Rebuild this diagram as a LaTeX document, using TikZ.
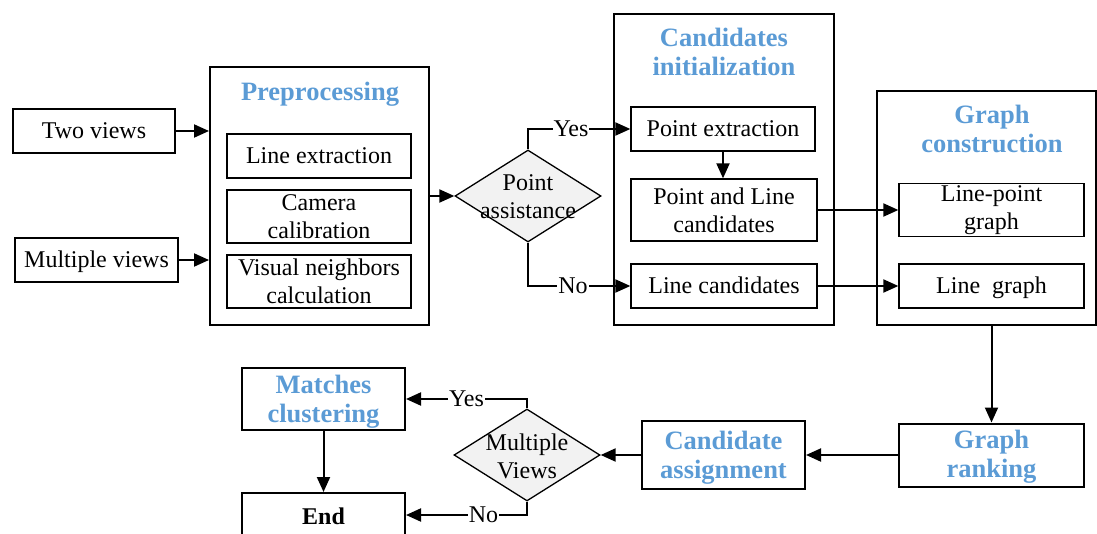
\documentclass[tikz,border=0pt]{standalone}
\usepackage{fontspec}
\setmainfont{Liberation Serif}
\usetikzlibrary{shapes.geometric,arrows.meta}
\definecolor{ttl}{RGB}{91,155,213}
\definecolor{dgray}{RGB}{242,242,242}
\begin{document}
\begin{tikzpicture}[x=1pt,y=-1pt,
  every node/.style={font=\fontsize{24}{28}\selectfont},
  one/.style={text height=19pt,text depth=4.5pt},
  thickbox/.style={draw,line width=2pt,inner sep=0pt,align=center},
  thinbox/.style={draw,line width=1.3pt,inner sep=0pt,align=center},
  title/.style={font=\fontsize{26.5}{29}\selectfont\bfseries,text=ttl,align=center},
  dia/.style={diamond,draw,line width=1.3pt,fill=dgray,inner sep=0pt,minimum width=146pt,minimum height=92pt},
  conn/.style={line width=2pt,-{Triangle[length=15pt,width=13pt]}},
  lab/.style={fill=white,inner sep=1pt,text height=19pt,text depth=4.5pt}]
\useasboundingbox (0,0) rectangle (1097,534);
\clip (0,0) rectangle (1097,534);
% inputs
\node[thickbox,one,minimum width=162pt,minimum height=44pt] (two) at (94,131) {Two views};
\node[thickbox,one,minimum width=163pt,minimum height=44pt] (mul) at (96.5,260) {Multiple views};
% preprocessing
\node[thickbox,minimum width=219pt,minimum height=258pt] (pre) at (319.5,196) {};
\node[title,one] (pret) at (320,93) {Preprocessing};
\node[thinbox,one,minimum width=184pt,minimum height=44pt] (le) at (319,156) {Line extraction};
\node[thinbox,minimum width=184pt,minimum height=53pt] (cc) at (319,216.5) {Camera\\calibration};
\node[thinbox,minimum width=184pt,minimum height=53pt] (vn) at (319,281.5) {Visual neighbors\\calculation};
% point assistance
\node[dia] (pa) at (528,196) {};
\node[align=center] (pat) at (528,197) {Point\\assistance};
% candidates initialization
\node[thickbox,minimum width=220pt,minimum height=311pt] (ci) at (724,169.5) {};
\node[title] (cit) at (724,51.5) {Candidates\\initialization};
\node[thinbox,one,minimum width=184pt,minimum height=44pt] (pe) at (723,129) {Point extraction};
\node[thinbox,minimum width=186pt,minimum height=62pt] (plc) at (724,210) {Point and Line\\candidates};
\node[thinbox,one,minimum width=186pt,minimum height=44pt] (lc) at (724,286) {Line candidates};
% graph construction
\node[thickbox,minimum width=219pt,minimum height=234pt] (gc) at (986.5,208) {};
\node[title] (gct) at (992,128.5) {Graph\\construction};
\node[thinbox,minimum width=185pt,minimum height=53pt] (lpg) at (991.5,210) {Line-point\\graph};
\node[thinbox,one,minimum width=185pt,minimum height=44pt] (lg) at (991.5,286) {Line~~graph};
% bottom row
\node[thickbox,minimum width=185pt,minimum height=63pt] (gr) at (991.5,455) {};
\node[title] (grt) at (991.5,457) {Graph\\ranking};
\node[thickbox,minimum width=163pt,minimum height=68pt] (ca) at (723.5,455) {};
\node[title] (cat) at (723.5,457.5) {Candidate\\assignment};
\node[dia] (mv) at (527,455) {};
\node[align=center] (mvt) at (527,456) {Multiple\\Views};
\node[thickbox,minimum width=163pt,minimum height=62pt] (mc) at (323.5,399) {};
\node[title] (mct) at (323.5,401.5) {Matches\\clustering};
\node[thickbox,minimum width=163pt,minimum height=60pt] (en) at (323.5,523) {};
\node[font=\fontsize{24}{28}\selectfont\bfseries,one] (ent) at (323.5,517) {End};
% connectors
\draw[conn] (two.east) -- (two.east -| pre.west);
\draw[conn] (mul.east) -- (mul.east -| pre.west);
\draw[conn] (pre.east) -- (pa.west);
\draw[conn] (pa.north) |- node[lab,pos=0.71] {Yes} (pe.west);
\draw[conn] (pa.south) |- node[lab,pos=0.72] {No} (lc.west);
\draw[conn] (pe.south) -- (pe.south |- plc.north);
\draw[conn] (plc.east) -- (lpg.west);
\draw[conn] (lc.east) -- (lg.west);
\draw[conn] (gc.south -| gr.north) -- (gr.north);
\draw[conn] (gr.west) -- (ca.east);
\draw[conn] (ca.west) -- (mv.east);
\draw[conn] (mv.north) |- node[lab,pos=0.75] {Yes} (mc.east);
\draw[conn] (mv.south) |- node[lab,pos=0.68] {No} (en.east |- 0,515);
\draw[conn] (mc.south) -- (en.north);
\end{tikzpicture}
\end{document}
